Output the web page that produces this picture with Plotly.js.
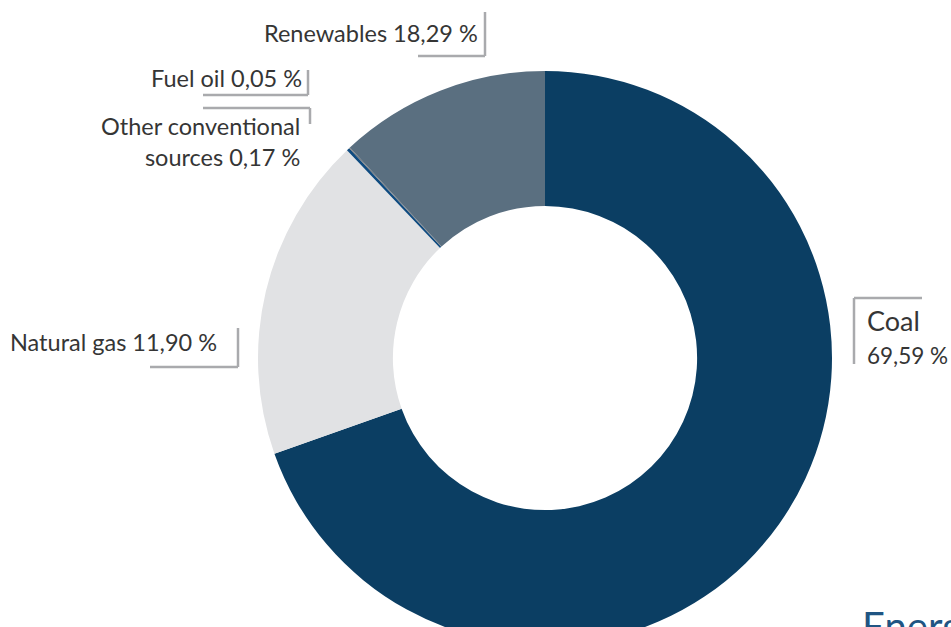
<!DOCTYPE html>
<html>
<head>
<meta charset="utf-8">
<script src="https://cdn.plot.ly/plotly-3.0.1.min.js"></script>
<style>
html,body{margin:0;padding:0;overflow:hidden;background:#fff;width:951px;height:627px;}
#chart{width:951px;height:660px;}
</style>
</head>
<body>
<div id="chart"></div>
<script>
// Data (clockwise from 12 o'clock, as drawn)
const categories = ["Coal", "Renewables", "Other conventional sources", "Fuel oil", "Natural gas"];
const shares = [69.59, 18.29, 0.17, 0.05, 11.90];
const sliceColors = ["#0b3e63", "#e1e2e4", "#0f4b80", "#6f7175", "#5a6f80"];

const W = 951, H = 660;
const px = x => x / W;
const py = y => 1 - y / H;
const fmt = v => v.toFixed(2).replace('.', ',') + ' %';
const val = name => shares[categories.indexOf(name)];

const labelFont = {family: "Lato, 'Open Sans', sans-serif", size: 23.5, color: "#353535"};
const lineStyle = {color: "#a9aaad", width: 2.5};

function seg(x0, y0, x1, y1) {
  return {type: 'line', xref: 'paper', yref: 'paper', x0: px(x0), y0: py(y0), x1: px(x1), y1: py(y1), line: lineStyle};
}

const data = [{
  type: 'pie',
  labels: categories,
  values: shares,
  sort: false,
  direction: 'clockwise',
  rotation: 0,
  hole: 0.53,
  textinfo: 'none',
  hoverinfo: 'label+value',
  marker: {colors: sliceColors, line: {width: 0}},
  domain: {x: [px(258), px(832)], y: [py(645), py(71)]},
  showlegend: false
}];

const annotations = [
  {text: "Renewables " + fmt(val("Renewables")), x: px(480), y: py(33), xanchor: 'right', yanchor: 'middle'},
  {text: "Fuel oil " + fmt(val("Fuel oil")), x: px(304), y: py(78), xanchor: 'right', yanchor: 'middle'},
  {text: "Other conventional<br>sources " + fmt(val("Other conventional sources")), x: px(302), y: py(141), xanchor: 'right', yanchor: 'middle', align: 'right'},
  {text: "Natural gas " + fmt(val("Natural gas")), x: px(8), y: py(342), xanchor: 'left', yanchor: 'middle'},
  {text: "Coal", x: px(865), y: py(320), xanchor: 'left', yanchor: 'middle', font: Object.assign({}, labelFont, {size: 27})},
  {text: fmt(val("Coal")), x: px(865), y: py(355), xanchor: 'left', yanchor: 'middle', font: Object.assign({}, labelFont, {size: 22.5})},
  {text: "Energy", x: px(860), y: py(600), xanchor: 'left', yanchor: 'top', font: {family: "Lato, 'Open Sans', sans-serif", size: 40, color: "#1f5583"}}
].map(a => Object.assign({xref: 'paper', yref: 'paper', showarrow: false, font: labelFont}, a));

const shapes = [
  seg(485, 12, 485, 56), seg(418, 56, 485, 56),
  seg(308, 70, 308, 95), seg(203, 95, 308, 95),
  seg(203, 108, 310, 108), seg(310, 108, 310, 124),
  seg(238, 328, 238, 367), seg(150, 367, 238, 367),
  seg(854, 298, 854, 364), seg(854, 298, 922, 298)
];

const layout = {
  width: W, height: H,
  margin: {l: 0, r: 0, t: 0, b: 0},
  paper_bgcolor: '#ffffff',
  plot_bgcolor: '#ffffff',
  annotations: annotations,
  shapes: shapes
};

Plotly.newPlot('chart', data, layout, {displayModeBar: false, staticPlot: true});
</script>
</body>
</html>
